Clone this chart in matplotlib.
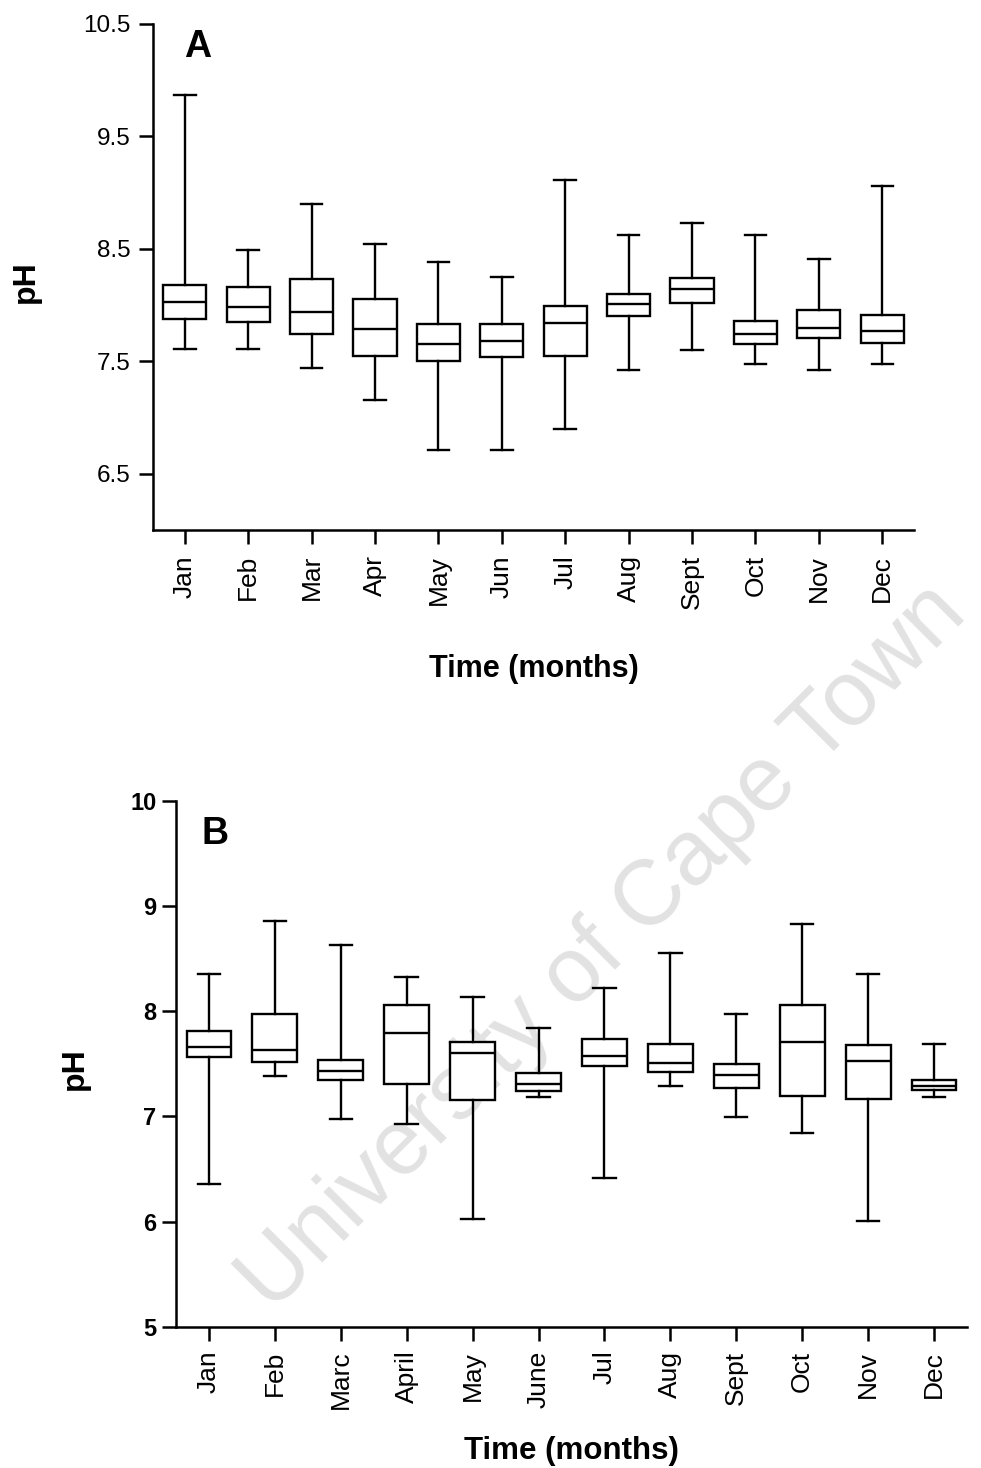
import numpy as np
import matplotlib
matplotlib.use("Agg")
import matplotlib.pyplot as plt

plt.rcParams['font.family'] = ['Liberation Sans', 'DejaVu Sans']

# panel A: monthly pH (five-number summaries)
months_a = ['Jan', 'Feb', 'Mar', 'Apr', 'May', 'Jun', 'Jul', 'Aug', 'Sept', 'Oct', 'Nov', 'Dec']
low_a = [7.61, 7.61, 7.44, 7.16, 6.71, 6.71, 6.90, 7.42, 7.60, 7.48, 7.42, 7.48]
q1_a = [7.88, 7.85, 7.74, 7.55, 7.50, 7.54, 7.55, 7.90, 8.02, 7.65, 7.71, 7.66]
med_a = [8.03, 7.98, 7.94, 7.79, 7.65, 7.68, 7.84, 8.01, 8.14, 7.74, 7.80, 7.77]
q3_a = [8.18, 8.16, 8.23, 8.05, 7.83, 7.83, 7.99, 8.10, 8.24, 7.86, 7.96, 7.91]
high_a = [9.87, 8.49, 8.90, 8.54, 8.38, 8.25, 9.11, 8.62, 8.73, 8.62, 8.41, 9.06]

# panel B
months_b = ['Jan', 'Feb', 'Marc', 'April', 'May', 'June', 'Jul', 'Aug', 'Sept', 'Oct', 'Nov', 'Dec']
low_b = [6.36, 7.38, 6.98, 6.93, 6.03, 7.18, 6.42, 7.29, 6.99, 6.84, 6.01, 7.18]
q1_b = [7.56, 7.52, 7.35, 7.31, 7.16, 7.24, 7.48, 7.42, 7.27, 7.19, 7.17, 7.25]
med_b = [7.66, 7.63, 7.43, 7.79, 7.60, 7.31, 7.57, 7.51, 7.39, 7.71, 7.53, 7.29]
q3_b = [7.81, 7.97, 7.54, 8.06, 7.71, 7.41, 7.74, 7.69, 7.50, 8.06, 7.68, 7.35]
high_b = [8.35, 8.86, 8.63, 8.32, 8.13, 7.84, 8.22, 8.55, 7.97, 8.83, 8.35, 7.69]


def make_stats(low, q1, med, q3, high):
    return [dict(whislo=a, q1=b, med=c, q3=d, whishi=e)
            for a, b, c, d, e in zip(low, q1, med, q3, high)]


def draw_panel(ax, stats, labels, lw=1.7):
    pos = np.arange(1, len(stats) + 1)
    ax.bxp(stats, positions=pos, widths=0.68, capwidths=0.34, showfliers=False,
           patch_artist=True,
           boxprops=dict(facecolor='white', edgecolor='black', linewidth=lw),
           medianprops=dict(color='black', linewidth=lw),
           whiskerprops=dict(color='black', linewidth=lw),
           capprops=dict(color='black', linewidth=lw), zorder=3)
    ax.set_xlim(0.5, 12.5)
    ax.set_xticks(pos)
    ax.set_xticklabels(labels, rotation=90)
    for s in ['top', 'right']:
        ax.spines[s].set_visible(False)
    for s in ['left', 'bottom']:
        ax.spines[s].set_linewidth(1.8)
    ax.tick_params(axis='both', direction='out', length=10, width=1.8)
    ax.set_facecolor('none')
    ax.set_zorder(2)


fig = plt.figure(figsize=(9.81, 14.68), dpi=100)

# watermark, behind both panels
fig.text(603 / 981, 1 - 948 / 1468, 'University of Cape Town', rotation=45,
         rotation_mode='anchor', ha='center', va='center', fontsize=66,
         color='#e2e2e2', zorder=0)

ax1 = fig.add_axes([0.156, 0.639, 0.7757, 0.3447])
draw_panel(ax1, make_stats(low_a, q1_a, med_a, q3_a, high_a), months_a)
ax1.set_ylim(6.0, 10.5)
ax1.set_yticks([6.5, 7.5, 8.5, 9.5, 10.5])
ax1.set_yticklabels(['6.5', '7.5', '8.5', '9.5', '10.5'])
ax1.tick_params(axis='y', labelsize=17.5, pad=6)
ax1.tick_params(axis='x', labelsize=19, pad=8)
ax1.set_xlabel('Time (months)', fontsize=22, fontweight='bold')
ax1.xaxis.set_label_coords(0.5, -0.245)
ax1.set_ylabel('pH', fontsize=23, fontweight='bold')
ax1.yaxis.set_label_coords(-0.147, 0.49)
ax1.text(0.041, 0.934, 'A', transform=ax1.transAxes, fontsize=27,
         fontweight='bold', ha='left', va='baseline')

ax2 = fig.add_axes([0.1794, 0.096, 0.8063, 0.3587])
draw_panel(ax2, make_stats(low_b, q1_b, med_b, q3_b, high_b), months_b)
ax2.set_ylim(5, 10)
ax2.set_yticks([5, 6, 7, 8, 9, 10])
ax2.tick_params(axis='y', labelsize=17, pad=4)
ax2.tick_params(axis='x', labelsize=19, pad=7)
for t in ax2.get_yticklabels():
    t.set_fontweight('bold')
ax2.set_xlabel('Time (months)', fontsize=22.5, fontweight='bold')
ax2.xaxis.set_label_coords(0.5, -0.207)
ax2.set_ylabel('pH', fontsize=23, fontweight='bold')
ax2.yaxis.set_label_coords(-0.109, 0.49)
ax2.text(0.0325, 0.918, 'B', transform=ax2.transAxes, fontsize=27,
         fontweight='bold', ha='left', va='baseline')

fig.savefig('out.png', dpi=100, facecolor='white')
